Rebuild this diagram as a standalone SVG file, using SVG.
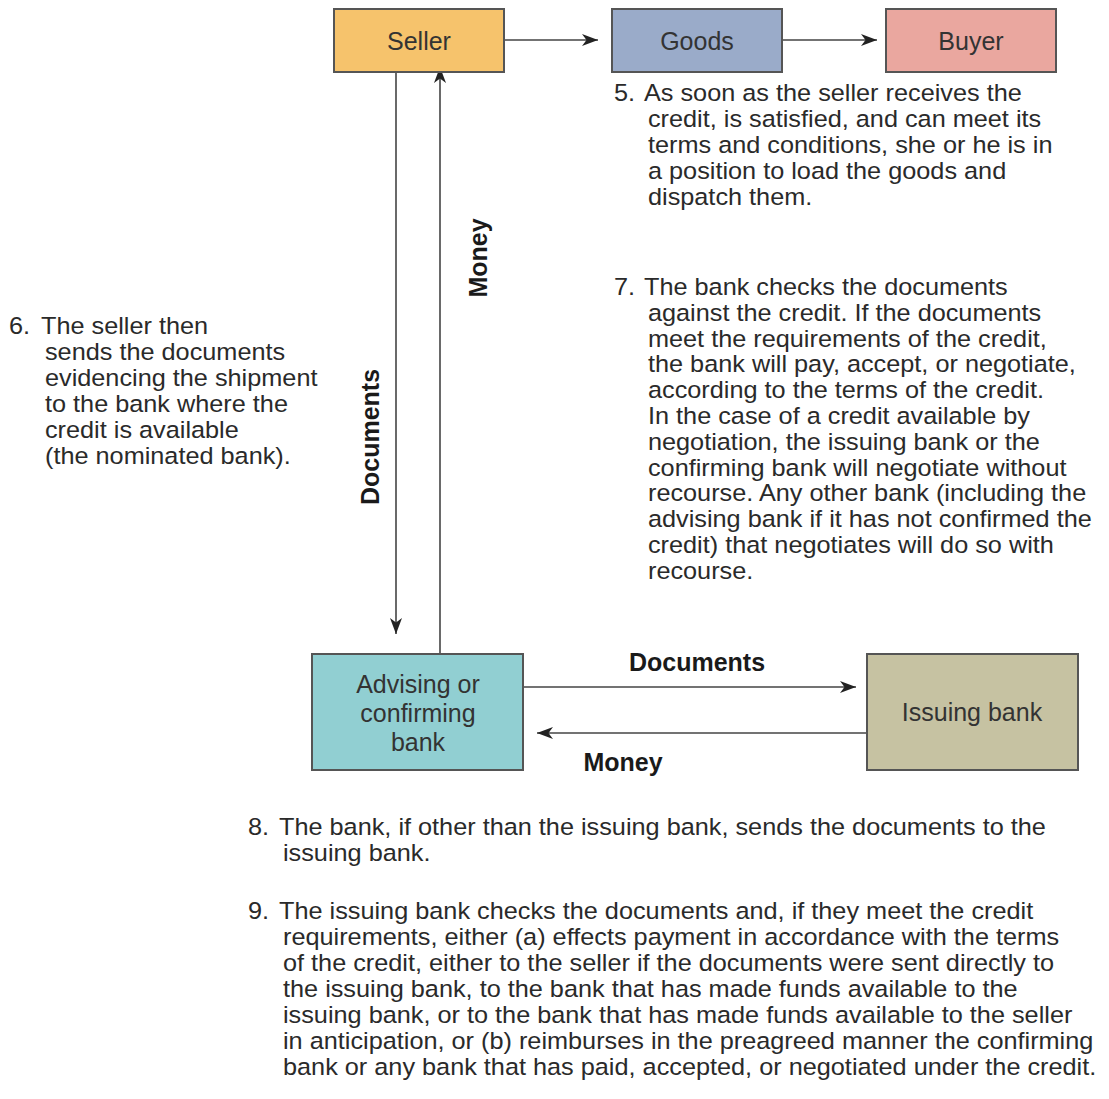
<svg xmlns="http://www.w3.org/2000/svg" width="1109" height="1099" viewBox="0 0 1109 1099">
<defs>
<marker id="ah" markerWidth="18" markerHeight="14" refX="16" refY="6" orient="auto" markerUnits="userSpaceOnUse">
<path d="M0,0 L16,6 L0,12 L4.5,6 Z" fill="#222"/>
</marker>
<style>
.box{stroke:#555;stroke-width:2}
.lbl{font-family:"Liberation Sans",Arial,sans-serif;font-size:25px;fill:#333;text-anchor:middle}
.note{font-family:"Liberation Sans",Arial,sans-serif;font-size:23.5px;fill:#2a2a2a}
.cl{font-family:"Liberation Sans",Arial,sans-serif;font-size:25px;font-weight:bold;fill:#1a1a1a;text-anchor:middle}
.ln{stroke:#444;stroke-width:1.6;fill:none;marker-end:url(#ah)}
</style>
</defs>
<rect width="1109" height="1099" fill="#fff"/>
<g id="connectors">
<line class="ln" x1="504" y1="40" x2="598" y2="40"/>
<line class="ln" x1="782" y1="40" x2="877" y2="40"/>
<line class="ln" x1="396" y1="72" x2="396" y2="634"/>
<line class="ln" x1="440" y1="654" x2="440" y2="67"/>
<line class="ln" x1="523" y1="687" x2="856" y2="687"/>
<line class="ln" x1="867" y1="733" x2="537" y2="733"/>
<text class="cl" transform="translate(379,437) rotate(-90)">Documents</text>
<text class="cl" transform="translate(487,258) rotate(-90)">Money</text>
<text class="cl" x="697" y="671">Documents</text>
<text class="cl" x="623" y="771">Money</text>
</g>
<g id="seller"><rect class="box" x="334" y="9" width="170" height="63" fill="#F6C36C"/><text class="lbl" x="419" y="50">Seller</text></g>
<g id="goods"><rect class="box" x="612" y="9" width="170" height="63" fill="#9AABC9"/><text class="lbl" x="697" y="50">Goods</text></g>
<g id="buyer"><rect class="box" x="886" y="9" width="170" height="63" fill="#EAA79F"/><text class="lbl" x="971" y="50">Buyer</text></g>
<g id="advising"><rect class="box" x="312" y="654" width="211" height="116" fill="#91CFD2"/><text class="lbl" x="418" y="693">Advising or</text><text class="lbl" x="418" y="722">confirming</text><text class="lbl" x="418" y="751">bank</text></g>
<g id="issuing"><rect class="box" x="867" y="654" width="211" height="116" fill="#C6C2A2"/><text class="lbl" x="972" y="721">Issuing bank</text></g>
<g id="note5" class="note" transform="scale(1.076,1)">
<text x="570.6" y="101">5. <tspan x="598.5">As soon as the seller receives the</tspan></text>
<text x="602.2" y="127">credit, is satisfied, and can meet its</text>
<text x="602.2" y="153">terms and conditions, she or he is in</text>
<text x="602.2" y="179">a position to load the goods and</text>
<text x="602.2" y="205">dispatch them.</text>
</g>
<g id="note7" class="note" transform="scale(1.076,1)">
<text x="570.6" y="295">7. <tspan x="598.5">The bank checks the documents</tspan></text>
<text x="602.2" y="321">against the credit. If the documents</text>
<text x="602.2" y="347">meet the requirements of the credit,</text>
<text x="602.2" y="372">the bank will pay, accept, or negotiate,</text>
<text x="602.2" y="398">according to the terms of the credit.</text>
<text x="602.2" y="424">In the case of a credit available by</text>
<text x="602.2" y="450">negotiation, the issuing bank or the</text>
<text x="602.2" y="476">confirming bank will negotiate without</text>
<text x="602.2" y="501">recourse. Any other bank (including the</text>
<text x="602.2" y="527">advising bank if it has not confirmed the</text>
<text x="602.2" y="553">credit) that negotiates will do so with</text>
<text x="602.2" y="579">recourse.</text>
</g>
<g id="note6" class="note" transform="scale(1.076,1)">
<text x="8.4" y="334">6. <tspan x="38.1">The seller then</tspan></text>
<text x="41.8" y="360">sends the documents</text>
<text x="41.8" y="386">evidencing the shipment</text>
<text x="41.8" y="412">to the bank where the</text>
<text x="41.8" y="438">credit is available</text>
<text x="41.8" y="464">(the nominated bank).</text>
</g>
<g id="note8" class="note" transform="scale(1.076,1)">
<text x="230.5" y="835">8. <tspan x="259.3">The bank, if other than the issuing bank, sends the documents to the</tspan></text>
<text x="263" y="861">issuing bank.</text>
</g>
<g id="note9" class="note" transform="scale(1.076,1)">
<text x="230.5" y="919">9. <tspan x="259.3">The issuing bank checks the documents and, if they meet the credit</tspan></text>
<text x="263" y="945">requirements, either (a) effects payment in accordance with the terms</text>
<text x="263" y="971">of the credit, either to the seller if the documents were sent directly to</text>
<text x="263" y="997">the issuing bank, to the bank that has made funds available to the</text>
<text x="263" y="1023">issuing bank, or to the bank that has made funds available to the seller</text>
<text x="263" y="1049">in anticipation, or (b) reimburses in the preagreed manner the confirming</text>
<text x="263" y="1075">bank or any bank that has paid, accepted, or negotiated under the credit.</text>
</g>
</svg>
